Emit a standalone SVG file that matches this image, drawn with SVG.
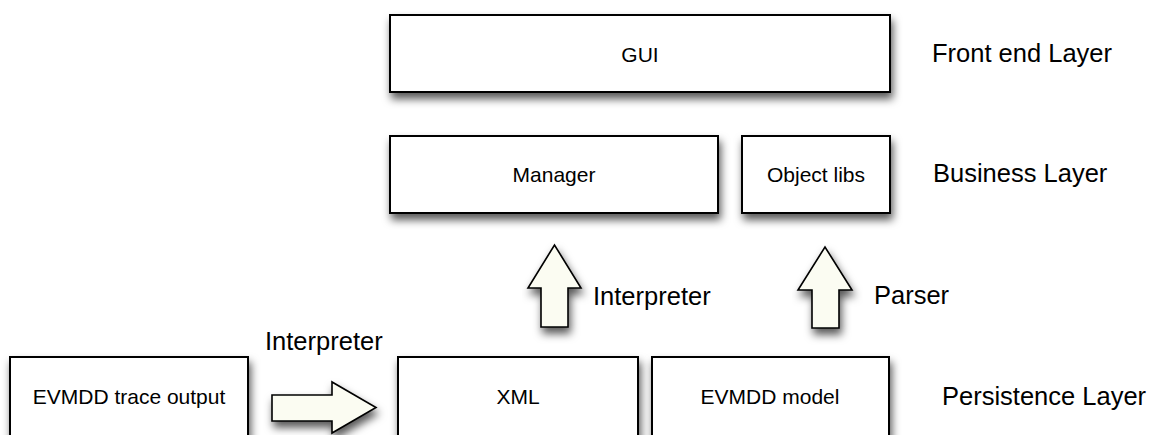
<svg xmlns="http://www.w3.org/2000/svg" width="1155" height="435" viewBox="0 0 1155 435">
  <defs>
    <filter id="shadow" x="-10%" y="-20%" width="130%" height="170%">
      <feDropShadow dx="2" dy="6" stdDeviation="4" flood-color="#000" flood-opacity="0.65"/>
    </filter>
  </defs>
  <style>
    .box { fill: #ffffff; stroke: #000; stroke-width: 2; filter: url(#shadow); }
    .arrow { fill: #fbfcf2; stroke: #000; stroke-width: 1.6; stroke-linejoin: miter; filter: url(#shadow); }
    .lbl { font-family: "Liberation Sans", Arial, sans-serif; font-size: 21px; fill: #000; text-anchor: middle; }
    .side { font-family: "Liberation Sans", Arial, sans-serif; font-size: 25.5px; fill: #000; }
  </style>
  <rect width="1155" height="435" fill="#ffffff"/>

  <!-- Front end layer -->
  <g id="gui">
    <rect class="box" x="390" y="15" width="500" height="77"/>
    <text class="lbl" x="640" y="62">GUI</text>
  </g>

  <!-- Business layer -->
  <g id="manager">
    <rect class="box" x="390" y="136" width="328" height="77"/>
    <text class="lbl" x="554" y="182">Manager</text>
  </g>
  <g id="object-libs">
    <rect class="box" x="742" y="136" width="148" height="77"/>
    <text class="lbl" x="816" y="182">Object libs</text>
  </g>

  <!-- Persistence layer -->
  <g id="evmdd-trace-output">
    <rect class="box" x="10" y="357" width="238" height="95"/>
    <text class="lbl" x="129" y="404">EVMDD trace output</text>
  </g>
  <g id="xml">
    <rect class="box" x="398" y="357" width="240" height="95"/>
    <text class="lbl" x="518" y="404">XML</text>
  </g>
  <g id="evmdd-model">
    <rect class="box" x="652" y="357" width="237" height="95"/>
    <text class="lbl" x="770" y="404">EVMDD model</text>
  </g>

  <!-- Layer captions -->
  <g id="layer-labels">
    <text class="side" x="932" y="62">Front end Layer</text>
    <text class="side" x="933" y="182">Business Layer</text>
    <text class="side" x="942" y="405">Persistence Layer</text>
  </g>

  <!-- Block arrows between layers -->
  <g id="connectors">
    <polygon class="arrow" points="272,395 332,395 332,382 376,407.5 332,433 332,421 272,421"/>
    <text class="side" x="265" y="350">Interpreter</text>

    <polygon class="arrow" points="541,327 541,288 528,288 554.5,245 581,288 568,288 568,327"/>
    <text class="side" x="593" y="305">Interpreter</text>

    <polygon class="arrow" points="812,328 812,290 798,290 825,247 852,290 839,290 839,328"/>
    <text class="side" x="874" y="304">Parser</text>
  </g>
</svg>
